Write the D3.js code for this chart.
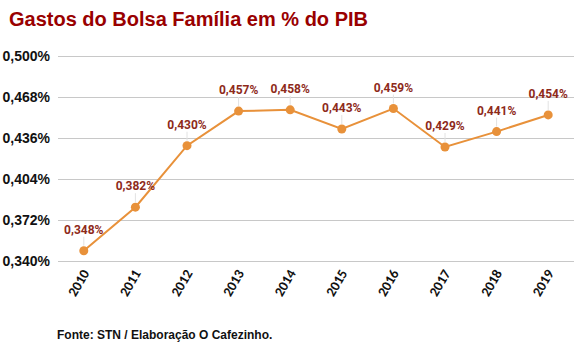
<!DOCTYPE html>
<html><head><meta charset="utf-8">
<script src="https://cdn.jsdelivr.net/npm/d3@7/dist/d3.min.js"></script>
<style>body{margin:0;background:#fff}svg{display:block}</style>
</head><body>
<svg id="c" width="588" height="356"></svg>
<script>
const years = ["2010","2011","2012","2013","2014","2015","2016","2017","2018","2019"];
const values = [0.348,0.382,0.430,0.457,0.458,0.443,0.459,0.429,0.441,0.454];
const yTicks = [0.340,0.372,0.404,0.436,0.468,0.500];

const svg = d3.select("#c");
const fmt = v => v.toFixed(3).replace(".", ",") + "%";
const x = d3.scaleBand().domain(years).range([58, 574]);
const y = d3.scaleLinear().domain([0.340, 0.500]).range([261, 56]);

svg.append("text").attr("x", 9).attr("y", 26)
  .attr("font-family", "Liberation Sans, Arial, sans-serif").attr("font-weight", "bold")
  .attr("font-size", 20).attr("fill", "#990000").text("Gastos do Bolsa Família em % do PIB");

// gridlines
svg.append("g").selectAll("line").data(yTicks).join("line")
  .attr("x1", 58).attr("x2", 574).attr("y1", d => y(d)).attr("y2", d => y(d))
  .attr("stroke", "#c8c8c8").attr("stroke-width", 1).attr("shape-rendering", "crispEdges");

const yAxis = svg.append("g").attr("transform", "translate(58,0)")
  .call(d3.axisLeft(y).tickValues(yTicks).tickFormat(fmt).tickSize(0).tickPadding(8));
yAxis.select(".domain").remove();
yAxis.selectAll("text").attr("font-family", "Liberation Sans, Arial, sans-serif")
  .attr("font-weight", "bold").attr("font-size", 14).attr("fill", "#111");

const xAxis = svg.append("g").attr("transform", "translate(0,261)")
  .call(d3.axisBottom(x).tickSize(0).tickPadding(0));
xAxis.select(".domain").remove();
xAxis.selectAll("text").attr("font-family", "Carlito, Liberation Sans, Arial, sans-serif")
  .attr("font-weight", "bold").attr("font-size", 14).attr("fill", "#111")
  .attr("text-anchor", "end").attr("dy", null).attr("y", 0)
  .attr("transform", "translate(6,12) rotate(-60)");

const cx = d => x(d) + x.bandwidth() / 2;
const pts = years.map((yr, i) => ({yr, v: values[i]}));

// leader lines
svg.append("g").selectAll("line").data(pts).join("line")
  .attr("x1", d => cx(d.yr)).attr("x2", d => cx(d.yr))
  .attr("y1", d => y(d.v) - 5).attr("y2", d => y(d.v) - 14)
  .attr("stroke", "#e2e2e2").attr("stroke-width", 1);

svg.append("path").datum(pts)
  .attr("d", d3.line().x(d => cx(d.yr)).y(d => y(d.v)))
  .attr("fill", "none").attr("stroke", "#e8913a").attr("stroke-width", 2);

svg.append("g").selectAll("circle").data(pts).join("circle")
  .attr("cx", d => cx(d.yr)).attr("cy", d => y(d.v)).attr("r", 4.5).attr("fill", "#e8913a");

svg.append("g").selectAll("text").data(pts).join("text")
  .attr("x", d => cx(d.yr)).attr("y", d => y(d.v) - 17)
  .attr("text-anchor", "middle").attr("font-family", "Roboto, Liberation Sans, sans-serif")
  .attr("font-weight", "bold").attr("font-size", 12).attr("fill", "#8e2a1a")
  .text(d => fmt(d.v));

svg.append("text").attr("x", 57).attr("y", 339)
  .attr("font-family", "Liberation Sans, Arial, sans-serif").attr("font-weight", "bold")
  .attr("font-size", 12).attr("fill", "#111").text("Fonte: STN / Elaboração O Cafezinho.");
</script>
</body></html>
